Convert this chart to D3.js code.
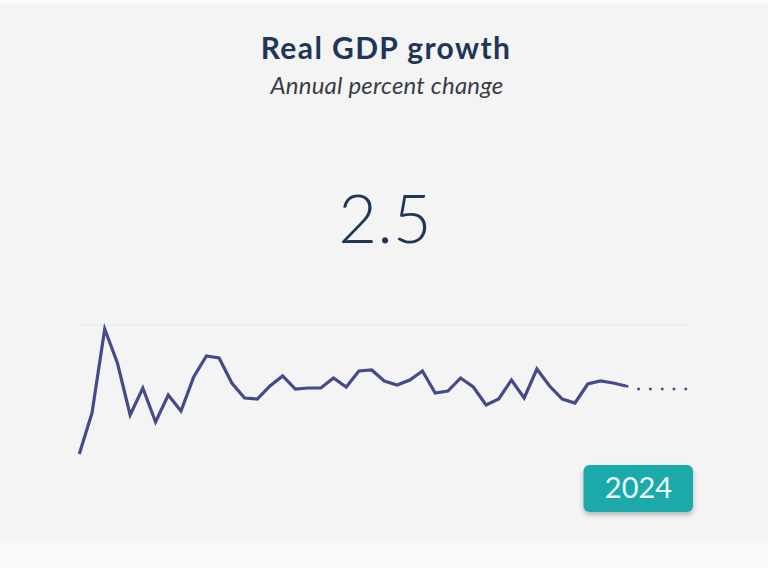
<!DOCTYPE html>
<html>
<head>
<meta charset="utf-8">
<script src="https://cdn.jsdelivr.net/npm/d3@7"></script>
<style>
  html, body { margin: 0; padding: 0; background: #f8fafc; }
  svg { display: block; }
</style>
</head>
<body>
<svg id="chart" width="768" height="568"></svg>
<script>
// ---- Data ----
const title = "Real GDP growth";
const subtitle = "Annual percent change";
const highlightYear = 2024;
const highlightValue = "2.5";
const years = d3.range(1981, 2025);
const values = [-4.3, -0.2, 8.2, 4.8, -0.4, 2.3, -1.1, 1.6, 0.0, 3.4,
                5.5, 5.3, 2.8, 1.3, 1.2, 2.5, 3.5, 2.2, 2.3, 2.3,
                3.3, 2.4, 4.0, 4.1, 3.0, 2.6, 3.1, 4.0, 1.8, 2.0,
                3.3, 2.4, 0.6, 1.2, 3.1, 1.3, 4.2, 2.5, 1.2, 0.8,
                2.7, 3.0, 2.8, 2.5];
const forecastYears = [2024, 2025, 2026, 2027, 2028, 2029];
const forecastValues = [2.5, 2.2, 2.2, 2.2, 2.2, 2.2];

// ---- Layout ----
const W = 768, H = 568;
const svg = d3.select("#chart");

svg.append("rect").attr("x", 0).attr("y", 4).attr("width", W).attr("height", 539)
  .attr("fill", "#f4f4f4");

const defs = svg.append("defs");
const f = defs.append("filter").attr("id", "shadow").attr("x", "-20%").attr("y", "-20%")
  .attr("width", "140%").attr("height", "160%");
f.append("feDropShadow").attr("dx", 0).attr("dy", 3).attr("stdDeviation", 2.5)
  .attr("flood-color", "#000").attr("flood-opacity", 0.25);

svg.append("text").attr("x", 386).attr("y", 59)
  .attr("text-anchor", "middle")
  .style("font-family", "Lato, 'Open Sans', sans-serif")
  .style("font-weight", 700).style("font-size", "30px")
  .style("letter-spacing", "1.4px")
  .attr("fill", "#1e3657").text(title);

svg.append("text").attr("x", 387).attr("y", 94)
  .attr("text-anchor", "middle")
  .style("font-family", "Lato, 'Open Sans', sans-serif")
  .style("font-style", "italic").style("font-weight", 400).style("font-size", "24px")
  .style("letter-spacing", "0.2px")
  .attr("fill", "#3a3d45").text(subtitle);

svg.append("text").attr("x", 385).attr("y", 243)
  .attr("text-anchor", "middle")
  .style("font-family", "Lato, 'Open Sans', sans-serif")
  .style("font-weight", 300).style("font-size", "67px")
  .attr("fill", "#1e3657").text(highlightValue);

// ---- Sparkline ----
const x = d3.scaleLinear().domain([1981, 2029]).range([79.3, 689.4]);
const y = d3.scaleLinear().domain([-5, 10]).range([461, 311]);

svg.append("line")
  .attr("x1", x(1981)).attr("x2", x(2029))
  .attr("y1", y(8.6)).attr("y2", y(8.6))
  .attr("stroke", "#ebebeb").attr("stroke-width", 1);

const line = d3.line().x(d => x(d[0])).y(d => y(d[1]));

svg.append("path")
  .datum(d3.zip(forecastYears, forecastValues))
  .attr("d", line)
  .attr("fill", "none")
  .attr("stroke", "#474a8a")
  .attr("stroke-width", 2.6)
  .attr("stroke-dasharray", "2.6 9.2");

svg.append("path")
  .datum(d3.zip(years, values))
  .attr("d", line)
  .attr("fill", "none")
  .attr("stroke", "#474a8a")
  .attr("stroke-width", 3.2)
  .attr("stroke-linejoin", "miter");

// ---- Year badge ----
const badge = svg.append("g");
badge.append("rect")
  .attr("x", 583.5).attr("y", 465).attr("width", 109.5).attr("height", 47)
  .attr("rx", 6).attr("fill", "#1fa9a9").attr("filter", "url(#shadow)");
badge.append("text")
  .attr("x", 638.5).attr("y", 498)
  .attr("text-anchor", "middle")
  .style("font-family", "Lato, 'Open Sans', sans-serif")
  .style("font-weight", 400).style("font-size", "29px")
  .attr("fill", "#eafcfc").text(highlightYear);
</script>
</body>
</html>
